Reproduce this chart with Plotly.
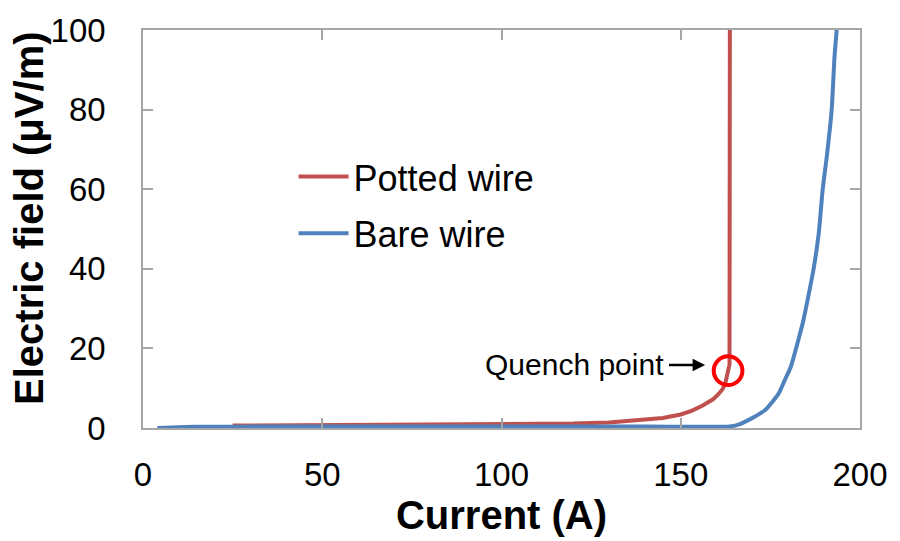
import plotly.graph_objects as go

# Potted wire: current (A) vs electric field (uV/m)
potted_current = [25, 40, 50, 60, 75, 90, 100, 110, 120, 130, 140, 145, 150, 153, 156,
                  159, 160.5, 161.7, 162.5, 163.1, 163.6, 163.7]
potted_field = [0.6, 0.65, 0.7, 0.75, 0.8, 0.8, 0.8, 0.9, 1.1, 1.4, 2.0, 2.5, 3.4, 4.3, 5.6,
                7.2, 8.5, 9.8, 11.5, 13.5, 16, 100]

# Bare wire
bare_current = [4, 8, 15, 30, 60, 100, 140, 155, 160, 163.7, 166.5, 169.5, 171.5, 173.8,
                175.5, 177.4, 179.0, 180.7, 183.0, 184.2, 185.3, 187.1, 188.5, 189.6, 190.8,
                192.1, 192.9, 193.5]
bare_field = [0, 0.15, 0.3, 0.35, 0.4, 0.4, 0.35, 0.3, 0.3, 0.4, 1.0, 2.3, 3.3, 4.7,
              6.5, 8.8, 12.0, 15.4, 22.8, 27.0, 31.8, 40.2, 49, 60, 68.7,
              80, 93.4, 100]

# Quench point marker
quench_current = 163.2
quench_field = 14.4

x_ticks = [0, 50, 100, 150, 200]
y_ticks = [0, 20, 40, 60, 80, 100]

RED = "#C0504D"
BLUE = "#4F81BD"
FONT = "Liberation Sans, Arial, sans-serif"

fig = go.Figure()
fig.add_trace(go.Scatter(x=potted_current, y=potted_field, mode="lines", name="Potted wire",
                         legendgroup="potted",
                         line=dict(color=RED, width=4)))
fig.add_trace(go.Scatter(x=bare_current, y=bare_field, mode="lines", name="Bare wire",
                         legendgroup="bare",
                         line=dict(color=BLUE, width=4, shape="spline", smoothing=0.6)))

# circle around the quench point
fig.add_shape(type="circle", xref="x", yref="y",
              x0=quench_current - 4.0, x1=quench_current + 4.0,
              y0=quench_field - 3.6, y1=quench_field + 3.6,
              line=dict(color="#FF0000", width=4))

# label and arrow pointing at the quench point
fig.add_annotation(x=120.3, y=16.0, xref="x", yref="y", text="Quench point",
                   showarrow=False, font=dict(family=FONT, size=30, color="black"))
fig.add_annotation(x=156.8, y=15.8, ax=146.3, ay=15.8, xref="x", yref="y",
                   axref="x", ayref="y", text="", showarrow=True,
                   arrowhead=2, arrowsize=1, arrowwidth=2.5, arrowcolor="black", standoff=0)

# vertical axis title
fig.add_annotation(xref="paper", yref="paper", x=-0.160, y=0.526,
                   text="<b>Electric field (μV/m)</b>", textangle=-90, showarrow=False,
                   xanchor="center", yanchor="middle",
                   font=dict(family=FONT, size=40, color="black"))

axis_common = dict(showgrid=False, zeroline=False, showline=True, mirror="allticks",
                   linecolor="#A6A6A6", linewidth=1.5, ticks="inside", ticklen=10,
                   tickwidth=1.5, tickcolor="#A6A6A6",
                   tickfont=dict(family=FONT, size=33, color="black"))

fig.update_xaxes(range=[0, 200], tickvals=x_ticks, ticklabelstandoff=17,
                 title=dict(text="<b>Current (A)</b>", standoff=8,
                            font=dict(family=FONT, size=40, color="black")),
                 **axis_common)
fig.update_yaxes(range=[0, 100], tickvals=y_ticks, ticklabelstandoff=29,
                 **axis_common)

fig.update_layout(
    width=900, height=541,
    margin=dict(l=143, r=31, t=26, b=108),
    paper_bgcolor="white", plot_bgcolor="white",
    showlegend=True,
    legend=dict(x=0.21, y=0.56, xanchor="left", yanchor="middle",
                bgcolor="rgba(0,0,0,0)", borderwidth=0,
                font=dict(family=FONT, size=36, color="black"),
                itemwidth=50, tracegroupgap=7),
    font=dict(family=FONT),
)

fig.write_html("out.html")
